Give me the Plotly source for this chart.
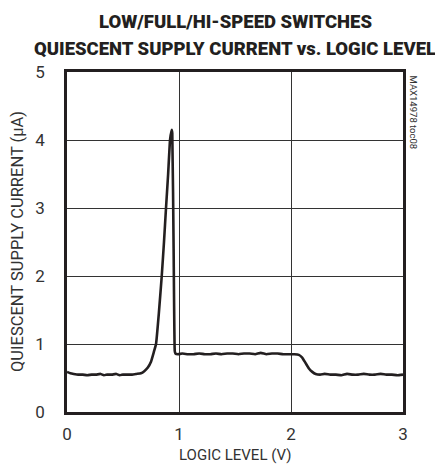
import plotly.graph_objects as go

# Data
logic_level = [0.00, 0.03, 0.06, 0.10, 0.14, 0.18, 0.22, 0.26, 0.30, 0.33, 0.36, 0.40,
               0.44, 0.47, 0.50, 0.54, 0.58, 0.62, 0.66, 0.69, 0.72, 0.75, 0.775, 0.795,
               0.82, 0.846, 0.866, 0.884, 0.903, 0.92, 0.935, 0.940, 0.952, 0.962, 0.968,
               0.99, 1.03, 1.08, 1.13, 1.18, 1.23, 1.28, 1.33, 1.38, 1.43, 1.48, 1.53,
               1.58, 1.63, 1.68, 1.73, 1.78, 1.83, 1.88, 1.93, 1.98, 2.03, 2.07, 2.10,
               2.13, 2.16, 2.19, 2.22, 2.26, 2.30, 2.35, 2.40, 2.45, 2.50, 2.55, 2.60,
               2.65, 2.70, 2.75, 2.80, 2.85, 2.90, 2.95, 3.00]
supply_current = [0.59, 0.57, 0.56, 0.55, 0.55, 0.54, 0.55, 0.55, 0.56, 0.54, 0.55, 0.55,
                  0.56, 0.54, 0.55, 0.55, 0.55, 0.56, 0.57, 0.60, 0.65, 0.74, 0.88, 1.00,
                  1.45, 2.00, 2.50, 3.00, 3.50, 4.00, 4.15, 4.10, 2.40, 0.90, 0.86,
                  0.85, 0.86, 0.85, 0.85, 0.86, 0.85, 0.85, 0.86, 0.85, 0.86, 0.86, 0.85,
                  0.86, 0.86, 0.85, 0.87, 0.85, 0.86, 0.86, 0.85, 0.85, 0.85, 0.84, 0.80,
                  0.72, 0.64, 0.59, 0.56, 0.55, 0.56, 0.55, 0.55, 0.54, 0.56, 0.55, 0.55,
                  0.56, 0.55, 0.55, 0.56, 0.55, 0.55, 0.54, 0.55]

x_ticks = [0, 1, 2, 3]
y_ticks = [0, 1, 2, 3, 4, 5]

title_line1 = "LOW/FULL/HI-SPEED SWITCHES"
title_line2 = "QUIESCENT SUPPLY CURRENT vs. LOGIC LEVEL"
x_title = "LOGIC LEVEL (V)"
y_title = "QUIESCENT SUPPLY CURRENT (µA)"
tag_text = "MAX14978 toc08"

font_fam = "Roboto, Liberation Sans, sans-serif"
ink = "#231f20"
txt = "#333333"

fig = go.Figure()
fig.add_trace(go.Scatter(
    x=logic_level, y=supply_current, mode="lines",
    line=dict(color=ink, width=2.6, shape="spline", smoothing=0.3),
    showlegend=False, hoverinfo="skip"))

# page body has an 8px margin, so the figure is sized/offset to compensate
fig.update_layout(
    width=435, height=462,
    margin=dict(l=59, r=40, t=64, b=58),
    paper_bgcolor="white", plot_bgcolor="white",
    xaxis=dict(range=[0, 3], tickvals=x_ticks, ticks="", showgrid=True,
               gridcolor="#333333", gridwidth=1, zeroline=False,
               showline=True, linecolor=ink, linewidth=2.5, mirror=True,
               ticklabelstandoff=5,
               tickfont=dict(family=font_fam, size=17, color=txt)),
    yaxis=dict(range=[0, 5], tickvals=y_ticks, ticks="", showgrid=True,
               gridcolor="#333333", gridwidth=1, zeroline=False,
               showline=True, linecolor=ink, linewidth=2.5, mirror=True,
               ticklabelstandoff=16,
               tickfont=dict(family=font_fam, size=17, color=txt)),
)

fig.add_annotation(text=title_line1, xref="paper", yref="paper",
                   x=0.5, y=1.0, xanchor="center", yanchor="middle", yshift=50,
                   showarrow=False,
                   font=dict(family=font_fam, size=18.5, color=ink, weight=900))
fig.add_annotation(text=title_line2, xref="paper", yref="paper",
                   x=0.5, y=1.0, xanchor="center", yanchor="middle", yshift=23,
                   showarrow=False,
                   font=dict(family=font_fam, size=18.5, color=ink, weight=900))
fig.add_annotation(text=x_title, xref="paper", yref="paper",
                   x=0.5, y=0.0, xanchor="center", yanchor="middle", yshift=-43,
                   showarrow=False, font=dict(family=font_fam, size=15, color=txt))
fig.add_annotation(text=y_title, xref="paper", yref="paper",
                   x=0.0, y=0.5, xanchor="center", yanchor="middle", xshift=-50,
                   textangle=-90, showarrow=False,
                   font=dict(family=font_fam, size=16.5, color=txt))
fig.add_annotation(text=tag_text, xref="paper", yref="paper", x=1.0, y=1.0,
                   xanchor="left", yanchor="top", xshift=3, yshift=-1, textangle=90,
                   showarrow=False,
                   font=dict(family=font_fam, size=9.5, color=txt))

fig.write_html("out.html")
